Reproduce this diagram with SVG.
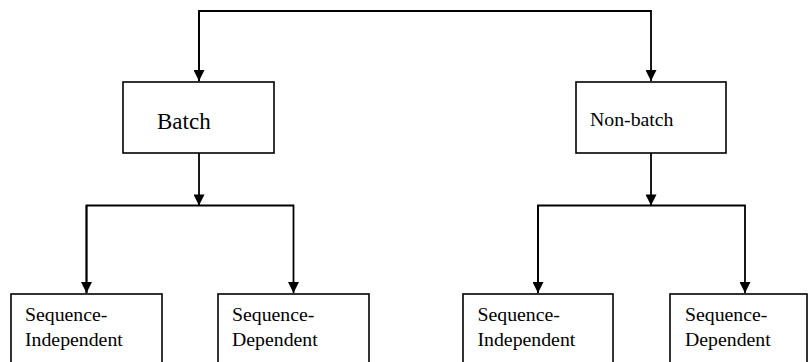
<svg xmlns="http://www.w3.org/2000/svg" width="810" height="362" viewBox="0 0 810 362">
<style>
.box{fill:#fff;stroke:#000;stroke-width:1.6}
.ln{fill:none;stroke:#000;stroke-width:1.8}
.t{font-family:"Liberation Serif","Times New Roman",serif;fill:#000}
.s{font-size:19.8px}
</style>
<defs>
<marker id="ah" viewBox="0 0 10 10" refX="10" refY="5" markerWidth="12" markerHeight="11" markerUnits="userSpaceOnUse" orient="auto">
<path d="M0,0 L10,5 L0,10 Z" fill="#000"/>
</marker>
</defs>
<rect width="810" height="362" fill="#fff"/>
<g id="connectors">
<path class="ln" d="M199,81 V11 H651 V81" marker-end="url(#ah)"/>
<path class="ln" d="M199,11 V81" marker-end="url(#ah)"/>
<path class="ln" d="M199,153 V205.5" marker-end="url(#ah)"/>
<path class="ln" d="M86.5,293 V205.5 H293.5 V293" marker-end="url(#ah)"/>
<path class="ln" d="M86.5,205.5 V293" marker-end="url(#ah)"/>
<path class="ln" d="M651,153 V205.5" marker-end="url(#ah)"/>
<path class="ln" d="M538,293 V205.5 H745 V293" marker-end="url(#ah)"/>
<path class="ln" d="M538,205.5 V293" marker-end="url(#ah)"/>
</g>
<g id="batch">
<rect class="box" x="123" y="82" width="151" height="71"/>
<text class="t" x="157" y="129" font-size="23">Batch</text>
</g>
<g id="nonbatch">
<rect class="box" x="576" y="82" width="150" height="71"/>
<text class="t" x="590" y="126" font-size="19.8">Non-batch</text>
</g>
<g id="b-seqind">
<rect class="box" x="11" y="294" width="151" height="80"/>
<text class="t s" x="25" y="321">Sequence-</text>
<text class="t s" x="25" y="346">Independent</text>
</g>
<g id="b-seqdep">
<rect class="box" x="218" y="294" width="151" height="80"/>
<text class="t s" x="232" y="321">Sequence-</text>
<text class="t s" x="232" y="346">Dependent</text>
</g>
<g id="n-seqind">
<rect class="box" x="463" y="294" width="150" height="80"/>
<text class="t s" x="477.5" y="321">Sequence-</text>
<text class="t s" x="477.5" y="346">Independent</text>
</g>
<g id="n-seqdep">
<rect class="box" x="670" y="294" width="137" height="80"/>
<text class="t s" x="685" y="321">Sequence-</text>
<text class="t s" x="685" y="346">Dependent</text>
</g>
</svg>
